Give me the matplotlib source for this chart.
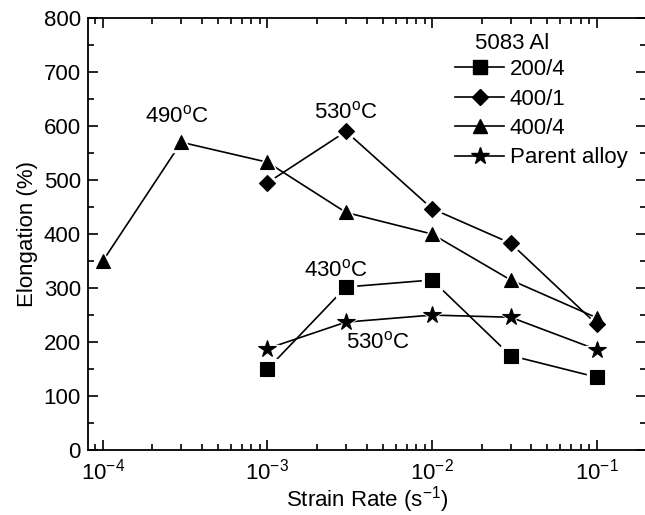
import matplotlib
matplotlib.use('Agg')
import matplotlib.pyplot as plt
from matplotlib.lines import Line2D
from matplotlib.ticker import MultipleLocator, LogLocator, NullFormatter

plt.rcParams['font.family'] = ['Liberation Sans', 'DejaVu Sans']
plt.rcParams['mathtext.fontset'] = 'custom'
plt.rcParams['mathtext.rm'] = 'Liberation Sans'
plt.rcParams['mathtext.it'] = 'Liberation Sans:italic'
plt.rcParams['mathtext.bf'] = 'Liberation Sans:bold'
plt.rcParams['axes.unicode_minus'] = False

# data
rate_200_4 = [1e-3, 3e-3, 1e-2, 3e-2, 1e-1]
elong_200_4 = [150, 302, 315, 175, 135]

rate_400_1 = [1e-3, 3e-3, 1e-2, 3e-2, 1e-1]
elong_400_1 = [495, 590, 447, 383, 233]

rate_400_4 = [1e-4, 3e-4, 1e-3, 3e-3, 1e-2, 3e-2, 1e-1]
elong_400_4 = [350, 570, 533, 440, 400, 315, 245]

rate_parent = [1e-3, 3e-3, 1e-2, 3e-2, 1e-1]
elong_parent = [188, 237, 250, 246, 186]

series = [
    ('200/4', rate_200_4, elong_200_4, 's', 9.5),
    ('400/1', rate_400_1, elong_400_1, 'D', 8),
    ('400/4', rate_400_4, elong_400_4, '^', 10.5),
    ('Parent alloy', rate_parent, elong_parent, '*', 13),
]

FS = 16

fig = plt.figure(figsize=(6.45, 5.15), dpi=100)
ax = fig.add_axes([0.136, 0.126, 0.866, 0.839])

handles = []
for name, x, y, m, ms in series:
    ax.plot(x, y, color='black', lw=1.2, zorder=2)
    # white halo so lines stop short of the symbols
    ax.plot(x, y, ls='none', marker=m, ms=ms + 4.5, mfc='white', mec='white',
            zorder=3)
    ax.plot(x, y, ls='none', marker=m, ms=ms, mfc='black', mec='black',
            mew=0.8, zorder=4)
    handles.append(Line2D([], [], color='black', lw=1.2, marker=m,
                          ms=ms, mfc='black', mec='black', label=name))

ax.set_xscale('log')
ax.set_xlim(8.1e-5, 0.2)
ax.set_ylim(0, 800)
ax.yaxis.set_major_locator(MultipleLocator(100))
ax.yaxis.set_minor_locator(MultipleLocator(50))
ax.xaxis.set_major_locator(LogLocator(base=10, numticks=10))
ax.xaxis.set_minor_locator(LogLocator(base=10, subs=range(2, 10), numticks=20))
ax.xaxis.set_minor_formatter(NullFormatter())

ax.tick_params(which='both', direction='in', top=True, right=True,
               labelsize=FS, width=1.2)
ax.tick_params(which='major', length=7)
ax.tick_params(which='minor', length=4)
ax.tick_params(axis='x', which='major', pad=6)
ax.tick_params(axis='y', which='major', pad=5)
for s in ax.spines.values():
    s.set_linewidth(1.3)

ax.set_xlabel('Strain Rate (s$^{-1}$)', fontsize=FS, labelpad=0)
ax.set_ylabel('Elongation (%)', fontsize=FS, labelpad=4)

# temperature notes
ax.text(2.8e-4, 617, '490$^{\\rm o}$C', fontsize=FS, ha='center', va='center')
ax.text(3.0e-3, 626, '530$^{\\rm o}$C', fontsize=FS, ha='center', va='center')
ax.text(2.6e-3, 333, '430$^{\\rm o}$C', fontsize=FS, ha='center', va='center')
ax.text(4.7e-3, 200, '530$^{\\rm o}$C', fontsize=FS, ha='center', va='center')

ax.text(0.693, 0.942, '5083 Al', transform=ax.transAxes, fontsize=FS,
        ha='left', va='center')
ax.legend(handles=handles, loc='upper left', bbox_to_anchor=(0.658, 0.905),
          frameon=False, fontsize=FS, handlelength=2.2, handletextpad=0.25,
          labelspacing=0.38, borderpad=0, borderaxespad=0)

fig.savefig('out.png', dpi=100)
